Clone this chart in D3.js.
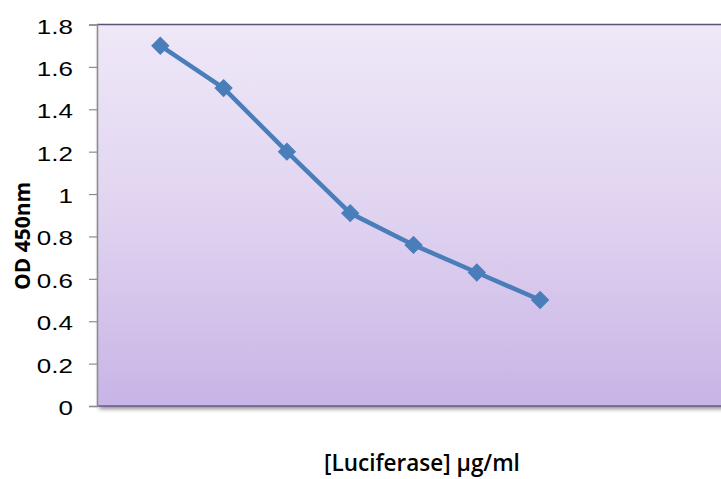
<!DOCTYPE html>
<html>
<head>
<meta charset="utf-8">
<script src="https://cdn.jsdelivr.net/npm/d3@7"></script>
<style>
  html, body { margin: 0; padding: 0; background: #fff; }
  svg { display: block; }
</style>
</head>
<body>
<svg id="chart" width="721" height="479"></svg>
<script>
// Standard-curve readings: OD at 450 nm for each dilution step
const steps = [1, 2, 3, 4, 5, 6, 7];
const od450 = [1.70, 1.50, 1.20, 0.91, 0.76, 0.63, 0.50];
const yTicks = [0, 0.2, 0.4, 0.6, 0.8, 1, 1.2, 1.4, 1.6, 1.8];
const yTitle = "OD 450nm";
const xTitle = "[Luciferase] \u00b5g/ml";

const svg = d3.select("#chart");
const plot = { left: 97, top: 24.5, right: 730, bottom: 406 };

const x = d3.scaleLinear().domain([0, 10]).range([plot.left, plot.right]);
const y = d3.scaleLinear().domain([0, 1.8]).range([plot.bottom, plot.top]);

const defs = svg.append("defs");
const grad = defs.append("linearGradient")
  .attr("id", "bg").attr("x1", 0).attr("y1", 0).attr("x2", 0).attr("y2", 1);
grad.append("stop").attr("offset", "0%").attr("stop-color", "#efe8f8");
grad.append("stop").attr("offset", "50%").attr("stop-color", "#e0d3f0");
grad.append("stop").attr("offset", "100%").attr("stop-color", "#c8b4e6");

const shadow = defs.append("filter").attr("id", "shadow")
  .attr("x", "-5%").attr("y", "-5%").attr("width", "115%").attr("height", "115%");
shadow.append("feGaussianBlur").attr("in", "SourceAlpha").attr("stdDeviation", 2.2);
shadow.append("feOffset").attr("dx", 2).attr("dy", 3).attr("result", "off");
shadow.append("feComponentTransfer").append("feFuncA").attr("type", "linear").attr("slope", 0.45);
const merge = shadow.append("feMerge");
merge.append("feMergeNode");
merge.append("feMergeNode").attr("in", "SourceGraphic");

// plot area with gradient fill and drop shadow
svg.append("rect")
  .attr("x", plot.left).attr("y", plot.top)
  .attr("width", plot.right - plot.left).attr("height", plot.bottom - plot.top)
  .attr("fill", "url(#bg)")
  .attr("filter", "url(#shadow)");

// top and bottom frame edges
svg.append("line")
  .attr("x1", plot.left).attr("x2", plot.right)
  .attr("y1", plot.top).attr("y2", plot.top)
  .attr("stroke", "#5e5277").attr("stroke-width", 1.5);
svg.append("line")
  .attr("x1", plot.left).attr("x2", plot.right)
  .attr("y1", plot.bottom).attr("y2", plot.bottom)
  .attr("stroke", "#6a5a8a").attr("stroke-width", 1.5);

// y axis: ticks from d3, labels drawn wide (horizontally stretched Arial look)
const yAxis = d3.axisLeft(y)
  .tickValues(yTicks)
  .tickSize(8)
  .tickFormat("");
const gy = svg.append("g")
  .attr("transform", `translate(${plot.left},0)`)
  .call(yAxis);
gy.select(".domain").attr("stroke", "#8c8c8c").attr("stroke-width", 1.5);
gy.selectAll(".tick line").attr("stroke", "#8c8c8c").attr("stroke-width", 1.2);

svg.append("g").selectAll("text")
  .data(yTicks)
  .join("text")
  .attr("transform", d => `translate(${plot.left - 24},${y(d) + 9}) scale(1.3,1)`)
  .attr("text-anchor", "end")
  .attr("font-family", "'Liberation Sans', Arial, sans-serif")
  .attr("font-size", 20)
  .attr("fill", "#000")
  .text(d => d3.format("")(+d.toFixed(1)));

// data line and diamond markers
const pts = steps.map((s, i) => [s, od450[i]]);
svg.append("path")
  .datum(pts)
  .attr("fill", "none")
  .attr("stroke", "#4a7ebb")
  .attr("stroke-width", 4.5)
  .attr("stroke-linejoin", "round")
  .attr("d", d3.line().x(d => x(d[0])).y(d => y(d[1])));

svg.append("g").selectAll("path")
  .data(pts)
  .join("path")
  .attr("transform", d => `translate(${x(d[0])},${y(d[1])}) rotate(45)`)
  .attr("d", "M-6,-6H6V6H-6Z")
  .attr("fill", "#4a7ebb")
  .attr("stroke", "#4a7ebb")
  .attr("stroke-width", 1);

// axis titles
svg.append("text")
  .attr("transform", `translate(30,236) rotate(-90)`)
  .attr("text-anchor", "middle")
  .attr("font-family", "'Open Sans', sans-serif")
  .attr("font-weight", "bold")
  .attr("font-size", 21)
  .attr("fill", "#000")
  .text(yTitle);

svg.append("text")
  .attr("x", 422).attr("y", 471)
  .attr("text-anchor", "middle")
  .attr("font-family", "'Open Sans', sans-serif")
  .attr("font-weight", 600)
  .attr("font-size", 22.5)
  .attr("fill", "#000")
  .text(xTitle);
</script>
</body>
</html>
